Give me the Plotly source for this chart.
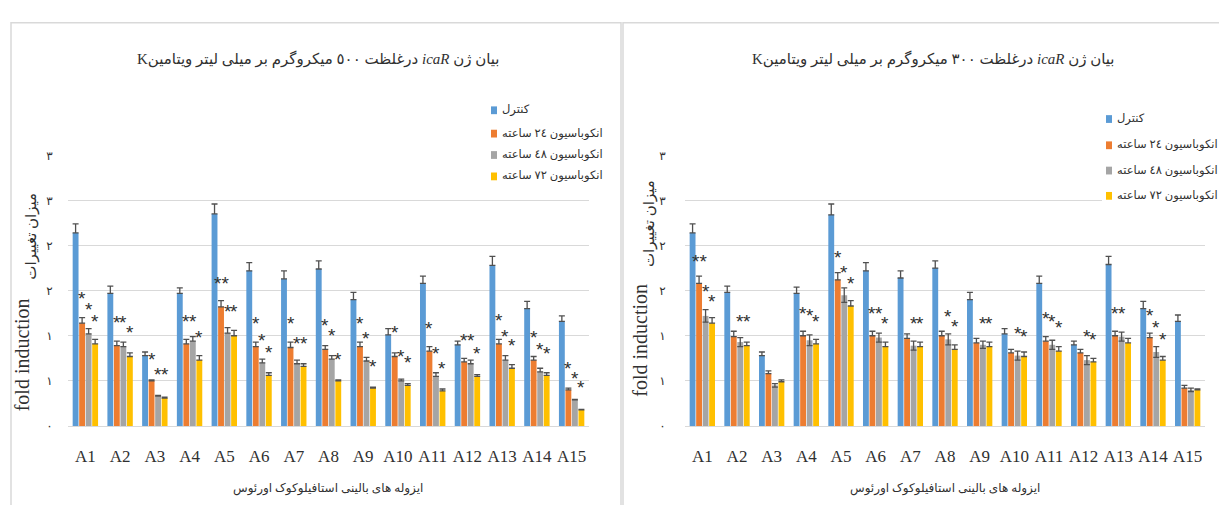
import plotly.graph_objects as go

W, H = 1227, 505

categories = ["A1", "A2", "A3", "A4", "A5", "A6", "A7", "A8", "A9", "A10",
              "A11", "A12", "A13", "A14", "A15"]

series_names = ["کنترل", "انکوباسیون ٢٤ ساعته", "انکوباسیون ٤٨ ساعته", "انکوباسیون ٧٢ ساعته"]
series_colors = ["#5B9BD5", "#ED7D31", "#A5A5A5", "#FFC000"]

y_tickvals = [0, 0.5, 1, 1.5, 2, 2.5, 3]
y_ticktext = ["٠", "١", "١", "٢", "٢", "٣", "٣"]

# ---- panel 1: 500 ug/ml ----
ctrl_500 = [2.14, 1.47, 0.78, 1.47, 2.35, 1.72, 1.63, 1.74, 1.40, 1.01, 1.58, 0.90, 1.78, 1.30, 1.16]
ctrl_500_err = [0.10, 0.08, 0.04, 0.06, 0.11, 0.09, 0.09, 0.09, 0.08, 0.07, 0.08, 0.04, 0.10, 0.08, 0.06]
h24_500 = [1.14, 0.89, 0.50, 0.91, 1.32, 0.88, 0.87, 0.85, 0.88, 0.77, 0.83, 0.71, 0.91, 0.73, 0.40]
h24_500_err = [0.06, 0.05, 0.01, 0.05, 0.07, 0.05, 0.06, 0.04, 0.05, 0.04, 0.05, 0.04, 0.05, 0.04, 0.02]
h48_500 = [1.02, 0.88, 0.33, 0.94, 1.03, 0.70, 0.69, 0.74, 0.72, 0.50, 0.55, 0.69, 0.73, 0.60, 0.29]
h48_500_err = [0.06, 0.05, 0.01, 0.05, 0.06, 0.04, 0.04, 0.04, 0.04, 0.02, 0.04, 0.04, 0.05, 0.04, 0.005]
h72_500 = [0.91, 0.77, 0.31, 0.73, 1.00, 0.56, 0.66, 0.50, 0.42, 0.45, 0.39, 0.55, 0.64, 0.56, 0.18]
h72_500_err = [0.05, 0.04, 0.01, 0.05, 0.06, 0.03, 0.03, 0.01, 0.01, 0.02, 0.02, 0.02, 0.04, 0.03, 0.005]

stars_500_24_txt = ["*", "*", "*", "*", "**", "*", "*", "*", "*", "*", "*", "*", "*", "*", "*"]
stars_500_24_y = [1.39, 1.12, 0.72, 1.14, 1.56, 1.11, 1.11, 1.09, 1.11, 1.01, 1.06, 0.92, 1.15, 0.96, 0.62]
stars_500_48_txt = ["*"] * 15
stars_500_48_y = [1.27, 1.12, 0.55, 1.14, 1.25, 0.93, 0.89, 0.98, 0.95, 0.75, 0.78, 0.92, 0.97, 0.83, 0.50]
stars_500_72_txt = ["*"] * 15
stars_500_72_y = [1.14, 1.01, 0.55, 0.96, 1.25, 0.79, 0.89, 0.72, 0.64, 0.68, 0.61, 0.78, 0.87, 0.78, 0.40]

# ---- panel 2: 300 ug/ml ----
ctrl_300 = [2.14, 1.48, 0.78, 1.47, 2.34, 1.72, 1.64, 1.75, 1.40, 1.02, 1.58, 0.90, 1.79, 1.30, 1.16]
ctrl_300_err = [0.10, 0.07, 0.04, 0.07, 0.12, 0.09, 0.08, 0.08, 0.08, 0.06, 0.08, 0.04, 0.09, 0.08, 0.07]
h24_300 = [1.58, 0.99, 0.58, 1.00, 1.62, 1.00, 0.97, 1.00, 0.92, 0.81, 0.94, 0.81, 1.00, 0.98, 0.42]
h24_300_err = [0.08, 0.06, 0.03, 0.05, 0.08, 0.05, 0.05, 0.05, 0.05, 0.04, 0.05, 0.04, 0.05, 0.05, 0.03]
h48_300 = [1.22, 0.93, 0.45, 0.95, 1.45, 0.98, 0.89, 0.96, 0.90, 0.78, 0.90, 0.73, 0.99, 0.82, 0.40]
h48_300_err = [0.07, 0.05, 0.02, 0.06, 0.08, 0.05, 0.05, 0.06, 0.04, 0.05, 0.05, 0.05, 0.05, 0.06, 0.02]
h72_300 = [1.14, 0.89, 0.49, 0.91, 1.33, 0.88, 0.88, 0.85, 0.88, 0.77, 0.83, 0.71, 0.92, 0.73, 0.40]
h72_300_err = [0.06, 0.04, 0.02, 0.05, 0.06, 0.05, 0.05, 0.05, 0.05, 0.05, 0.05, 0.04, 0.05, 0.04, 0.01]

stars_300_24_txt = ["**", "", "", "*", "*", "*", "", "", "", "", "*", "", "*", "*", ""]
stars_300_24_y = [1.80, None, None, 1.22, 1.85, 1.22, None, None, None, None, 1.17, None, 1.22, 1.20, None]
stars_300_48_txt = ["*", "*", "", "*", "*", "*", "*", "*", "*", "*", "*", "*", "*", "*", ""]
stars_300_48_y = [1.47, 1.14, None, 1.20, 1.68, 1.22, 1.11, 1.19, 1.11, 1.00, 1.14, 0.97, 1.22, 1.07, None]
stars_300_72_txt = ["*", "*", "", "*", "*", "*", "*", "*", "*", "*", "*", "*", "", "*", ""]
stars_300_72_y = [1.36, 1.14, None, 1.14, 1.56, 1.11, 1.11, 1.08, 1.11, 0.97, 1.07, 0.94, None, 0.94, None]

title_500 = "\u202bبیان ژن <i>icaR</i> درغلظت ٥٠٠ میکروگرم بر میلی لیتر ویتامینK\u202c"
title_300 = "\u202bبیان ژن <i>icaR</i> درغلظت ٣٠٠ میکروگرم بر میلی لیتر ویتامینK\u202c"
x_title = "ایزوله های بالینی استافیلوکوک اورئوس"
y_title_en = "fold induction"
y_title_fa = "میزان تغییرات"

SERIF = "Liberation Serif, DejaVu Serif, serif"
FA = "Liberation Serif, DejaVu Sans, serif"
ERR_COLOR = "#505050"
GRID = "#D9D9D9"
TXT = "#303030"

BARGAP = 0.25


def px(x):
    return x / W


def py(y):
    return 1 - y / H


fig = go.Figure()

panels = [
    dict(xa="x", ya="y",
         vals=[ctrl_500, h24_500, h48_500, h72_500],
         errs=[ctrl_500_err, h24_500_err, h48_500_err, h72_500_err],
         sym=[False, False, False, False],
         stars=[(stars_500_24_txt, stars_500_24_y), (stars_500_48_txt, stars_500_48_y),
                (stars_500_72_txt, stars_500_72_y)]),
    dict(xa="x2", ya="y2",
         vals=[ctrl_300, h24_300, h48_300, h72_300],
         errs=[ctrl_300_err, h24_300_err, h48_300_err, h72_300_err],
         sym=[False, False, True, False],
         stars=[(stars_300_24_txt, stars_300_24_y), (stars_300_48_txt, stars_300_48_y),
                (stars_300_72_txt, stars_300_72_y)]),
]

annotations = []
slot = (1 - BARGAP) / 4

for p in panels:
    for k in range(4):
        err = p["errs"][k]
        fig.add_trace(go.Bar(
            x=categories, y=p["vals"][k], name=series_names[k],
            marker=dict(color=series_colors[k], line=dict(width=0)),
            error_y=dict(type="data", array=err,
                         arrayminus=err if p["sym"][k] else [0] * len(err),
                         symmetric=False, color=ERR_COLOR, thickness=1.3, width=3),
            xaxis=p["xa"], yaxis=p["ya"], showlegend=False,
        ))
    for k, (txts, ys) in enumerate(p["stars"], start=1):
        off = -(1 - BARGAP) / 2 + (k + 0.5) * slot
        for j, (t, yv) in enumerate(zip(txts, ys)):
            if not t or yv is None:
                continue
            annotations.append(dict(
                x=j + off, y=yv, xref=p["xa"], yref=p["ya"], text=t, showarrow=False,
                font=dict(family="Liberation Sans, DejaVu Sans, sans-serif", size=19, color=TXT),
                xanchor="center", yanchor="middle", yshift=2,
            ))

axis_common_x = dict(type="category", showgrid=False, showline=True, linecolor=GRID, linewidth=1,
                     ticks="outside", ticklen=15, tickcolor="rgba(0,0,0,0)",
                     tickfont=dict(family=SERIF, size=17, color=TXT), zeroline=False)
axis_common_y = dict(range=[0, 3], tickvals=y_tickvals, ticktext=y_ticktext, showgrid=True,
                     gridcolor=GRID, gridwidth=1, zeroline=False, showline=False,
                     ticks="outside", tickcolor="rgba(0,0,0,0)",
                     tickfont=dict(family=FA, size=12, color=TXT),
                     domain=[py(422.7), py(144.3)])

fig.update_layout(
    width=W, height=H, margin=dict(l=0, r=0, t=0, b=0),
    paper_bgcolor="white", plot_bgcolor="white",
    barmode="group", bargap=BARGAP, bargroupgap=0.1,
    showlegend=False,
    xaxis=dict(axis_common_x, domain=[px(60), px(581)], anchor="y"),
    yaxis=dict(axis_common_y, anchor="x", ticklen=12),
    xaxis2=dict(axis_common_x, domain=[px(677), px(1197)], anchor="y2"),
    yaxis2=dict(axis_common_y, anchor="x2", ticklen=16),
)

shapes = []
# chart frames
shapes.append(dict(type="rect", xref="paper", yref="paper", x0=px(3), x1=px(613), y0=py(520), y1=py(8),
                   line=dict(color=GRID, width=1.5), fillcolor="rgba(0,0,0,0)", layer="above"))
shapes.append(dict(type="rect", xref="paper", yref="paper", x0=px(615), x1=px(1240), y0=py(520), y1=py(8),
                   line=dict(color=GRID, width=1.5), fillcolor="rgba(0,0,0,0)", layer="above"))

# titles
for t, cx in [(title_500, 310), (title_300, 925)]:
    annotations.append(dict(x=px(cx), y=py(45), xref="paper", yref="paper", text=t, showarrow=False,
                            font=dict(family=FA, size=15, color=TXT), xanchor="center", yanchor="middle"))
# x titles
for cx in [320, 937]:
    annotations.append(dict(x=px(cx), y=py(487), xref="paper", yref="paper", text=x_title, showarrow=False,
                            font=dict(family=FA, size=12, color=TXT), xanchor="center", yanchor="middle"))
# y titles
for (ex, ey, fx, fy) in [(14, 350, 24, 228), (632, 335, 641, 215)]:
    annotations.append(dict(x=px(ex), y=py(ey), xref="paper", yref="paper", text=y_title_en, showarrow=False,
                            textangle=-90, font=dict(family=SERIF, size=20, color=TXT),
                            xanchor="center", yanchor="middle"))
    annotations.append(dict(x=px(fx), y=py(fy), xref="paper", yref="paper", text=y_title_fa, showarrow=False,
                            textangle=-90, font=dict(family=FA, size=15, color=TXT),
                            xanchor="center", yanchor="middle"))

# custom legends (marker left of text, as in reference)
for (mx, rows, bx0, bx1, by0, by1) in [(483, [98, 122, 144, 166], 479, 611, 86, 177),
                                         (1098, [107, 134, 160, 186], 1094, 1224, 95, 198)]:
    shapes.append(dict(type="rect", xref="paper", yref="paper", x0=px(bx0), x1=px(bx1), y0=py(by1), y1=py(by0),
                       line=dict(width=0), fillcolor="white", layer="above"))
    for k, ry in enumerate(rows):
        shapes.append(dict(type="rect", xref="paper", yref="paper", x0=px(mx), x1=px(mx + 6),
                           y0=py(ry + 4), y1=py(ry - 4), line=dict(width=0),
                           fillcolor=series_colors[k], layer="above"))
        annotations.append(dict(x=px(mx + 9), y=py(ry), xref="paper", yref="paper", text=series_names[k],
                                showarrow=False, font=dict(family=FA, size=11.5, color=TXT),
                                xanchor="left", yanchor="middle"))

fig.update_layout(shapes=shapes, annotations=annotations)
fig.write_html("out.html")
